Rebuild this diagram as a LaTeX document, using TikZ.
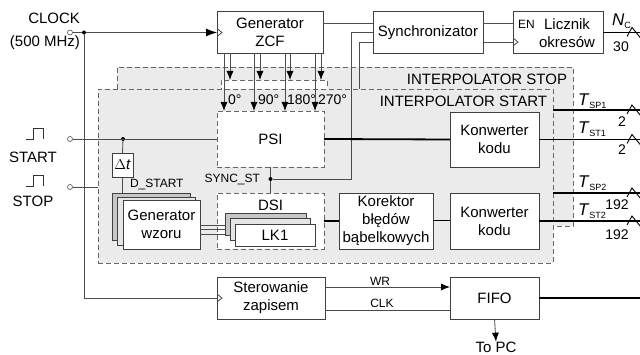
\documentclass[tikz,border=0pt]{standalone}
\usepackage{fontspec}
\setmainfont{Liberation Sans}
\usetikzlibrary{arrows.meta}
\begin{document}
\begin{tikzpicture}[x=1pt,y=-1pt,
  every node/.style={font=\fontsize{15}{18}\selectfont, inner sep=0pt, outer sep=0pt},
  blk/.style={draw=black!75, fill=white, line width=0.8pt, align=center},
  dbox/.style={draw=black!60, dash pattern=on 5pt off 3pt, line width=0.8pt},
  wire/.style={draw=black!70, line width=0.8pt},
  bus/.style={draw=black, line width=1.8pt},
  arr/.style={-{Latex[length=9pt,width=7pt,color=black]}},
  smalltxt/.style={font=\fontsize{12}{14}\selectfont},
  midtxt/.style={font=\fontsize{14}{16}\selectfont},
  dot/.style={circle, fill=black, minimum size=4pt},
  port/.style={circle, draw=black!70, fill=white, line width=0.6pt, minimum size=5pt},
]
\fill[white] (0,0) rectangle (640,355);
\useasboundingbox (0,0) rectangle (640,355);

% ---------- interpolator STOP (behind)
\node[dbox, fill=black!8, minimum width=456, minimum height=159] (stopbox) at (345,146.5) {};
\node[dbox, fill=white, minimum width=106, minimum height=60] (stoppsi) at (274,110) {};
\node[anchor=east] (stoplbl) at (567,79) {INTERPOLATOR STOP};

% ---------- top blocks
\node[blk, minimum width=106, minimum height=42] (zcf) at (270,32.5) {Generator\\ZCF};
\node[blk, minimum width=110, minimum height=42] (sync) at (428,32.5) {Synchronizator};
\node[blk, minimum width=90, minimum height=42] (licz) at (558,32.5) {};
\node[align=center] (lczt) at (567,33) {Licznik\\okresów};
\node[smalltxt, anchor=west] (en) at (518,24) {EN};

% arrows ZCF -> STOP PSI
\foreach \x in {230,260,290,321}
  \draw[wire, arr] (\x,0 |- zcf.south) -- (\x,0 |- stoppsi.north);

% sync line to STOP interpolator
\coordinate (sk) at (359,89);
\draw[wire] ([yshift=-9.5]sync.west) -| (sk);

% ---------- interpolator START
\node[dbox, fill=black!8, minimum width=455, minimum height=174] (startbox) at (325.5,176) {};
\node[anchor=east] (startlbl) at (547,101) {INTERPOLATOR START};

\node[dbox, fill=white, minimum width=107, minimum height=56] (psi) at (270.5,139) {PSI};
\node[dbox, fill=white, minimum width=107, minimum height=56] (dsi) at (270.5,221) {};
\node (dsil) at (270.5,205) {DSI};

% LK stack
\node[blk, fill=black!22, minimum width=81, minimum height=22] (lka) at (265.5,224) {};
\node[blk, fill=black!10, minimum width=80, minimum height=22] (lkb) at (270,229) {};
\node[blk, minimum width=80, minimum height=22] (lkc) at (275,235) {LK1};

% generator wzoru stack
\node[blk, fill=black!22, minimum width=78, minimum height=47] (gena) at (151,216.5) {};
\node[blk, fill=black!10, minimum width=78, minimum height=48] (genb) at (156,221) {};
\node[blk, minimum width=77, minimum height=49] (genc) at (161.5,224.5) {Generator\\wzoru};

\node[blk, minimum width=21, minimum height=24] (dt) at (122.5,165) {$\Delta$\textit{t}};
\node[smalltxt, anchor=west] (dstart) at (130,185) {D\_START};

\node[blk, minimum width=94, minimum height=56] (kor) at (386,221) {Korektor\\błędów\\bąbelkowych};
\node[blk, minimum width=89, minimum height=55] (konw1) at (494.5,139.5) {Konwerter\\kodu};
\node[blk, minimum width=89, minimum height=56] (konw2) at (494.5,221) {Konwerter\\kodu};

% arrows ZCF -> START PSI
\foreach \x in {224,254,285,315}
  \draw[wire, arr] (\x,0 |- zcf.south) -- (\x,0 |- psi.north);
\node[midtxt, anchor=west] (p0) at (228,100) {0°};
\node[midtxt, anchor=west] (p90) at (258,100) {90°};
\node[midtxt, anchor=west] (p180) at (287,100) {180°};
\node[midtxt, anchor=west] (p270) at (318,100) {270°};

% ---------- bottom blocks
\node[blk, minimum width=108, minimum height=42] (ster) at (271,298) {Sterowanie\\zapisem};
\node[blk, minimum width=89, minimum height=42] (fifo) at (494.5,298) {FIFO};

% ---------- inputs
\node[anchor=east] (clklbl) at (80,18) {CLOCK};
\node[anchor=east] (clkf) at (80,43) {(500 MHz)};
\node[port] (clkin) at (70,32.5) {};
\node[dot] (clkdot) at (84,32.5) {};
\draw[wire] (clkin) -- (clkdot);
\draw[wire, -{Latex[length=11pt,width=8pt,color=black]}] (clkdot) -- (zcf.west);
\draw[wire] (clkdot) |- (ster.west);

\node (startl) at (33,157) {START};
\node (stopl) at (33,201) {STOP};
\draw[wire, line width=0.9pt, black!80] (26,139) -- (33,139) -- (33,128) -- (43,128) -- (43,139);
\draw[wire, line width=0.9pt, black!80] (26,186) -- (33,186) -- (33,175) -- (43,175) -- (43,186);
\node[port] (startin) at (70,139) {};
\node[port] (stopin) at (70,187) {};
\node[dot] (stdot) at (123,139) {};
\draw[wire] (startin) -- (psi.west);
\draw[wire] (stdot) -- (dt.north);
\draw[wire] (dt.south) -- (dt.south |- gena.north);
\draw[wire] (stopin) -- (stopin -| startbox.west);

% clock markers
\draw[wire] ([yshift=4]zcf.west) -- ([xshift=5]zcf.west) -- ([yshift=-4]zcf.west);
\draw[wire] ([yshift=-5.5]licz.west) -- ([xshift=5,yshift=-9.5]licz.west) -- ([yshift=-13.5]licz.west);
\draw[wire] ([yshift=4]ster.west) -- ([xshift=5]ster.west) -- ([yshift=-4]ster.west);

% ---------- connections
\draw[wire] ([yshift=9]zcf.east) -- ([yshift=9]sync.west);
\draw[wire] ([yshift=9]sync.east) -- ([yshift=9]licz.west);
\draw[wire] ([yshift=-9.5]sync.east) -- ([yshift=-9.5]licz.west);

\coordinate (sj) at (351,179);
\node[dot] (syncdot) at (270.5,179) {};
\draw[wire] (sync.west) -| (sj) -- (syncdot);
\draw[wire] (psi.south) -- (syncdot) -- (dsi.north);
\node[smalltxt, anchor=east] (syncl) at (260,180) {SYNC\_ST};

\foreach \yy in {0,4.5,9}
  \draw[wire, line width=0.6pt] ([yshift=-\yy]genc.east |- 0,225) -- ([yshift=-\yy]225,225);

\draw[bus] (psi.east) -- (konw1.west);
\draw[bus] (dsi.east |- kor.west) -- (kor.west);
\draw[wire, black, line width=1pt] (kor.east) -- (konw2.west);

% outputs
\coordinate (onc) at (641,32.5);
\coordinate (osp1) at (641,110);
\coordinate (ost1) at (641,139.5);
\coordinate (osp2) at (641,193);
\coordinate (ost2) at (641,221);
\coordinate (ofifo) at (641,298);
\coordinate (sp1s) at (553,110);
\coordinate (sp2s) at (553,193);
\draw[bus] (licz.east |- onc) -- (onc);
\draw[bus] (sp1s) -- (osp1);
\draw[bus] (konw1.east) -- (ost1);
\draw[bus] (sp2s) -- (osp2);
\draw[bus] (konw2.east) -- (ost2);
\draw[bus] (fifo.east) -- (ofifo);

\foreach \yy in {32.5,110,139.5,193,221}
  \draw[black, line width=0.9pt] (627,\yy+4) -- (632,\yy-5) -- (641,\yy+6);

\node[anchor=west] (nc) at (612,21) {\fontsize{17}{17}\selectfont\textit{N}\raisebox{-3pt}{\fontsize{9}{9}\selectfont C}};
\node[midtxt] (n30) at (621,47) {30};
\node[anchor=west] (tsp1) at (578,101) {\fontsize{17}{17}\selectfont\textit{T}\raisebox{-3pt}{\fontsize{9}{9}\selectfont SP1}};
\node[anchor=west] (tst1) at (578,129) {\fontsize{17}{17}\selectfont\textit{T}\raisebox{-3pt}{\fontsize{9}{9}\selectfont ST1}};
\node[anchor=west] (tsp2) at (578,183) {\fontsize{17}{17}\selectfont\textit{T}\raisebox{-3pt}{\fontsize{9}{9}\selectfont SP2}};
\node[anchor=west] (tst2) at (578,211) {\fontsize{17}{17}\selectfont\textit{T}\raisebox{-3pt}{\fontsize{9}{9}\selectfont ST2}};
\node[midtxt] (w1) at (622,122) {2};
\node[midtxt] (w2) at (622,150) {2};
\node[midtxt] (w3) at (617,205) {192};
\node[midtxt] (w4) at (617,235) {192};

% FIFO
\draw[wire, arr] ([yshift=11]ster.east) -- ([yshift=11]fifo.west);
\draw[wire] ([yshift=-12]ster.east) -- ([yshift=-12]fifo.west);
\node[smalltxt] (wr) at (380,281) {WR};
\node[smalltxt] (clk) at (382,303) {CLK};
\node (topc) at (496,347) {To PC};
\draw[wire, arr] (fifo.south) -- (topc.north);
\end{tikzpicture}
\end{document}
